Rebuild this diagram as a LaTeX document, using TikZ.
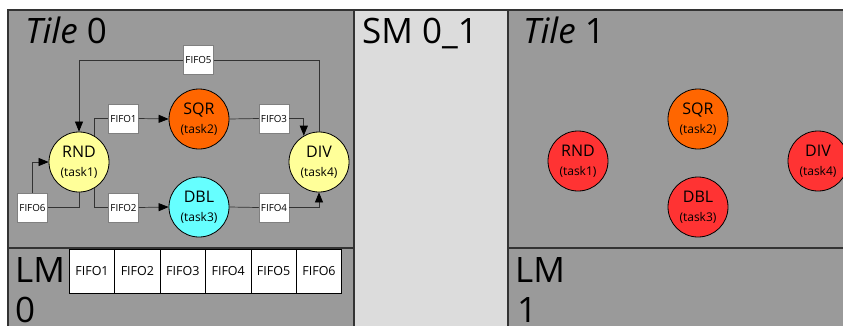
\documentclass[tikz,border=0pt]{standalone}
\usepackage{fontspec}
\setmainfont{Open Sans}
\usetikzlibrary{arrows.meta}
\definecolor{tilegray}{HTML}{9A9A9A}
\definecolor{smgray}{HTML}{DCDCDC}
\definecolor{edgegray}{HTML}{333333}
\definecolor{yel}{HTML}{FFFF99}
\definecolor{ora}{HTML}{FF6600}
\definecolor{cya}{HTML}{66FFFF}
\definecolor{redt}{HTML}{FF3333}
\begin{document}
\begin{tikzpicture}[x=1pt,y=-1pt,
  region/.style={draw=edgegray, line width=1.2pt},
  task/.style={circle, draw=black, line width=0.8pt, minimum size=60pt, inner sep=0pt,
    align=center, font=\fontsize{16}{19}\selectfont},
  fifo/.style={rectangle, draw=gray, fill=white, line width=0.5pt, minimum width=30pt,
    minimum height=29pt, inner sep=0pt, font=\fontsize{9.8}{10}\selectfont},
  cell/.style={rectangle, draw=black, fill=white, line width=0.6pt, minimum width=45.4pt,
    minimum height=44pt, inner sep=0pt, font=\fontsize{12.5}{13}\selectfont},
  big/.style={anchor=base west, inner sep=0pt, font=\fontsize{35}{40}\selectfont},
  conn/.style={draw=edgegray, line width=0.7pt},
  arr/.style={conn, -{Triangle[length=10pt,width=8pt,fill=black,color=black]}}
]
\useasboundingbox (0,0) rectangle (843,325);
\clip (0,0) rectangle (843,325);
\fill[white] (0,0) rectangle (843,325);
% regions
\filldraw[region, fill=tilegray] (8,10) rectangle (354,248);
\filldraw[region, fill=tilegray] (8,248) rectangle (354,340);
\filldraw[region, fill=smgray] (354,10) rectangle (508,340);
\filldraw[region, fill=tilegray] (508,10) rectangle (860,248);
\filldraw[region, fill=tilegray] (508,248) rectangle (860,340);
% titles
\node[big] (t0title) at (25,43) {\itshape Tile\upshape\ 0};
\node[big] (smtitle) at (362,43) {SM 0\_1};
\node[big] (t1title) at (523,43) {\itshape Tile\upshape\ 1};
\node[big] (lm0a) at (15,282) {LM};
\node[big] (lm0b) at (15,322) {0};
\node[big] (lm1a) at (515,282) {LM};
\node[big] (lm1b) at (517,322) {1};
% tile 0 tasks
\node[task, fill=yel] (t0rnd) at (79,162) {RND\\{\fontsize{12}{19}\selectfont(task1)}};
\node[task, fill=ora] (t0sqr) at (199,119) {SQR\\{\fontsize{12}{19}\selectfont(task2)}};
\node[task, fill=cya] (t0dbl) at (199,207) {DBL\\{\fontsize{12}{19}\selectfont(task3)}};
\node[task, fill=yel] (t0div) at (319,162) {DIV\\{\fontsize{12}{19}\selectfont(task4)}};
% fifos
\node[fifo] (f5) at (198.5,60) {FIFO5};
\node[fifo] (f1) at (123.5,118.5) {FIFO1};
\node[fifo] (f3) at (274,118.5) {FIFO3};
\node[fifo] (f2) at (123.5,207.5) {FIFO2};
\node[fifo] (f4) at (274,207.5) {FIFO4};
\node[fifo] (f6) at (32.5,207.5) {FIFO6};
% connectors
\draw[conn] (t0div.north) |- (f5.east);
\draw[arr] (f5.west) -| (t0rnd.north);
\draw[conn] (t0rnd.60) |- (f1.west);
\draw[arr] (f1.east) -- (t0sqr.west);
\draw[conn] (t0sqr.east) -- (f3.west);
\draw[arr] (f3.east) -| (t0div.120);
\draw[conn] (t0rnd.-60) |- (f2.west);
\draw[arr] (f2.east) -- (t0dbl.west);
\draw[conn] (t0dbl.east) -- (f4.west);
\draw[arr] (f4.east) -| (t0div.south);
\draw[conn] (t0rnd.south) |- (f6.east);
\draw[arr] (f6.north) |- (t0rnd.west);
% LM 0 cells
\node[cell] (c1) at (92,271) {FIFO1};
\node[cell] (c2) at (137.4,271) {FIFO2};
\node[cell] (c3) at (182.8,271) {FIFO3};
\node[cell] (c4) at (228.2,271) {FIFO4};
\node[cell] (c5) at (273.6,271) {FIFO5};
\node[cell] (c6) at (319,271) {FIFO6};
% tile 1 tasks
\node[task, fill=redt] (t1rnd) at (578,161) {RND\\{\fontsize{12}{19}\selectfont(task1)}};
\node[task, fill=ora] (t1sqr) at (698,119) {SQR\\{\fontsize{12}{19}\selectfont(task2)}};
\node[task, fill=redt] (t1dbl) at (698,207) {DBL\\{\fontsize{12}{19}\selectfont(task3)}};
\node[task, fill=redt] (t1div) at (818,161) {DIV\\{\fontsize{12}{19}\selectfont(task4)}};
\end{tikzpicture}
\end{document}
